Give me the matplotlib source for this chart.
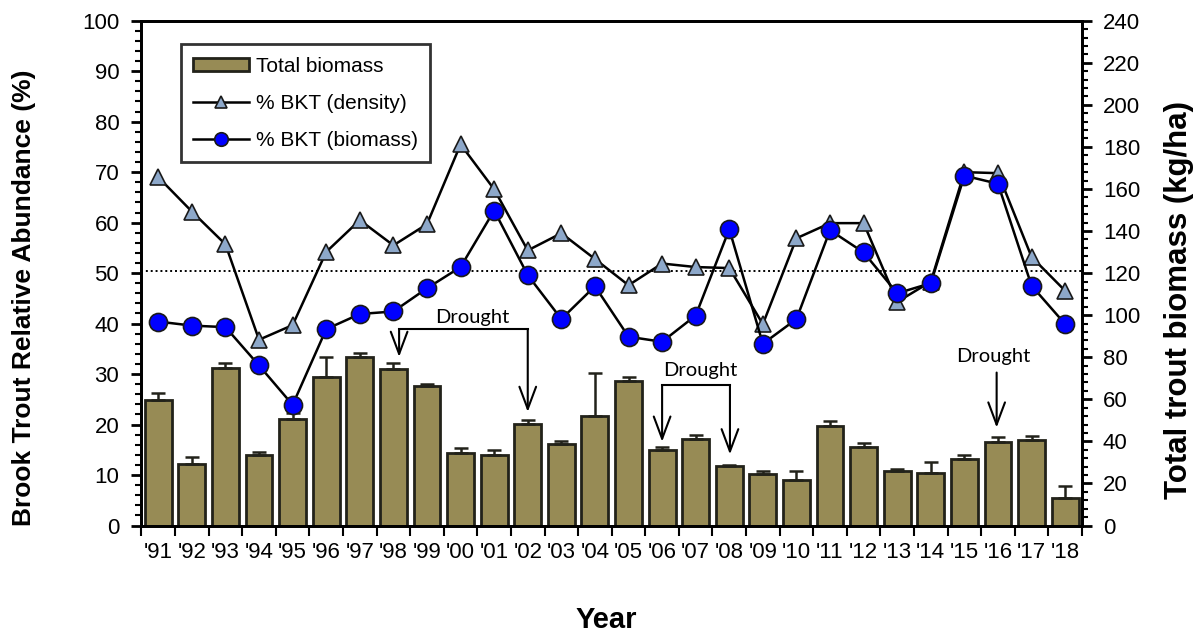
import matplotlib
matplotlib.use("Agg")
import matplotlib.pyplot as plt
import numpy as np
from matplotlib.ticker import MultipleLocator, FixedLocator, NullFormatter

years = ["'91", "'92", "'93", "'94", "'95", "'96", "'97", "'98", "'99", "'00",
         "'01", "'02", "'03", "'04", "'05", "'06", "'07", "'08", "'09", "'10",
         "'11", "'12", "'13", "'14", "'15", "'16", "'17", "'18"]
total_biomass = [59.8, 29.4, 74.8, 33.4, 50.8, 70.5, 79.9, 74.3, 66.4, 34.5,
                 33.4, 48.4, 38.7, 51.9, 68.5, 35.7, 41.3, 28.5, 24.5, 21.5,
                 47.4, 37.2, 26.1, 25.0, 31.6, 39.7, 40.8, 13.1]
biomass_err = [3.4, 3.2, 2.4, 1.4, 2.5, 9.8, 2.0, 3.2, 1.0, 2.4,
               2.3, 1.6, 1.6, 20.5, 1.9, 1.6, 1.9, 0.4, 1.4, 4.3,
               2.1, 2.0, 0.8, 5.0, 2.1, 2.2, 1.6, 5.5]
pct_density = [69.0, 62.2, 55.7, 36.8, 39.7, 54.2, 60.5, 55.5, 59.7, 75.5,
               66.6, 54.5, 57.9, 52.8, 47.6, 51.9, 51.2, 51.0, 39.9, 56.9,
               59.9, 59.9, 44.3, 48.3, 70.0, 69.8, 53.2, 46.5]
pct_biomass = [40.4, 39.6, 39.3, 31.7, 23.9, 38.9, 41.9, 42.4, 47.0, 51.2,
               62.4, 49.6, 40.9, 47.4, 37.4, 36.4, 41.6, 58.7, 36.0, 40.9,
               58.5, 54.1, 46.0, 48.0, 69.3, 67.7, 47.5, 39.9]
ref_line = 50.5

plt.rcParams['font.family'] = ['Liberation Sans', 'DejaVu Sans']

fig = plt.figure(figsize=(11.95, 6.35), dpi=100)
ax1 = fig.add_axes([0.1184, 0.1724, 0.9054 - 0.1184, 0.9674 - 0.1724])
ax2 = ax1.twinx()
ax1.set_zorder(ax2.get_zorder() + 1)
ax1.patch.set_visible(False)

x = np.arange(len(years))
bar_color = '#978B55'
edge = '#22221a'
bars = ax2.bar(x, total_biomass, width=0.8, color=bar_color, edgecolor=edge,
               linewidth=2, label='Total biomass', zorder=2)
ax2.errorbar(x, total_biomass, yerr=[np.zeros(len(x)), biomass_err], fmt='none',
             ecolor=edge, elinewidth=1.8, capsize=5, capthick=1.8, zorder=3)
ax2.set_ylim(0, 240)

ax1.axhline(ref_line, color='black', linestyle=(0, (1, 1.5)), linewidth=1.4, zorder=1)
l1, = ax1.plot(x, pct_density, '-', color='black', linewidth=1.8, marker='^',
               markersize=12, markerfacecolor='#8DA8CA', markeredgecolor='#1a1a1a',
               markeredgewidth=1.2, label='% BKT (density)', zorder=4)
l2, = ax1.plot(x, pct_biomass, '-', color='black', linewidth=1.8, marker='o',
               markersize=13, markerfacecolor='#0000FF', markeredgecolor='#1a1a1a',
               markeredgewidth=1.2, label='% BKT (biomass)', zorder=5)
ax1.set_ylim(0, 100)
ax1.set_xlim(-0.5, len(x) - 0.5)

# ticks
ax1.xaxis.set_major_locator(FixedLocator(np.arange(-0.5, len(x), 1.0)))
ax1.xaxis.set_major_formatter(NullFormatter())
ax1.xaxis.set_minor_locator(FixedLocator(x))
ax1.set_xticklabels(years, minor=True)
ax1.tick_params(axis='x', which='major', direction='out', length=7, width=1.5)
ax1.tick_params(axis='x', which='minor', length=0, pad=12)
for lab in ax1.get_xticklabels(minor=True):
    lab.set_family(['Liberation Sans Narrow', 'Liberation Sans'])
    lab.set_fontsize(16)

ax1.yaxis.set_major_locator(MultipleLocator(10))
ax1.yaxis.set_minor_locator(MultipleLocator(2))
ax1.tick_params(axis='y', which='major', direction='out', length=7, width=2, labelsize=16, pad=9)
ax1.tick_params(axis='y', which='minor', direction='out', length=4, width=1.5)
ax2.yaxis.set_major_locator(MultipleLocator(20))
ax2.yaxis.set_minor_locator(MultipleLocator(4))
ax2.tick_params(axis='y', which='major', direction='out', length=7, width=2, labelsize=16, pad=8)
ax2.tick_params(axis='y', which='minor', direction='out', length=4, width=1.5)

for a in (ax1, ax2):
    for s in a.spines.values():
        s.set_linewidth(2)
        s.set_color('black')

fig.text(24.5 / 1195, 1 - 298 / 635, 'Brook Trout Relative Abundance (%)', fontsize=19,
         fontweight='bold', rotation=90, ha='center', va='center')
fig.text(1179 / 1195, 1 - 300 / 635, 'Total trout biomass (kg/ha)', fontsize=22.5,
         fontweight='bold', rotation=90, ha='center', va='center')
fig.text(0.507, 1 - 619.5 / 635, 'Year', fontsize=21, fontweight='bold', ha='center', va='center')

leg = ax1.legend([bars, l1, l2], ['Total biomass', '% BKT (density)', '% BKT (biomass)'],
                 loc='upper left', bbox_to_anchor=(0.0417, 0.9535), borderaxespad=0,
                 fontsize=15, frameon=True, fancybox=False, edgecolor='black',
                 handlelength=2.7, handleheight=0.55, handletextpad=0.3, labelspacing=0.87,
                 borderpad=0.6, markerscale=0.75)
leg.get_frame().set_linewidth(2)

# Drought annotations
dfont = dict(family=['Lato', 'DejaVu Sans'], fontsize=14.5, ha='center', va='center')
arrow = dict(arrowstyle='->,head_length=1.6,head_width=0.6', color='black', lw=1.5,
             shrinkA=0, shrinkB=0)

ax1.text(9.34, 41.3, 'Drought', **dfont)
ax1.plot([7.17, 11.0], [38.9, 38.9], color='black', lw=1.5, zorder=6)
ax1.annotate('', xy=(7.17, 33.4), xytext=(7.17, 38.9), arrowprops=arrow)
ax1.annotate('', xy=(11.0, 22.5), xytext=(11.0, 38.9), arrowprops=arrow)

ax1.text(16.13, 30.8, 'Drought', **dfont)
ax1.plot([15.0, 17.02], [27.8, 27.8], color='black', lw=1.5, zorder=6)
ax1.annotate('', xy=(15.0, 16.6), xytext=(15.0, 27.8), arrowprops=arrow)
ax1.annotate('', xy=(17.02, 14.1), xytext=(17.02, 27.8), arrowprops=arrow)

ax1.text(24.85, 33.4, 'Drought', **dfont)
ax1.annotate('', xy=(24.96, 19.4), xytext=(24.96, 30.3), arrowprops=arrow)

fig.savefig('out.png', dpi=100)
